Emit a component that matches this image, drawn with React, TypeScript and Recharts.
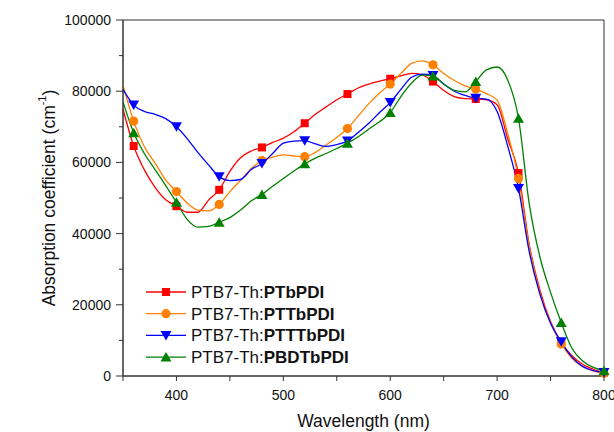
import { LineChart, Line, XAxis, YAxis, ReferenceArea } from "recharts";

const WAVELENGTHS = [
  350, 360, 370, 380, 390, 400, 410, 420, 430, 440, 450, 460, 470, 480, 490, 500, 510, 520, 530, 540, 550, 560, 570,
  580, 590, 600, 610, 620, 630, 640, 650, 660, 670, 680, 690, 700, 710, 720, 730, 740, 750, 760, 770, 780, 790, 800,
];

// absorption coefficient, values in cm^-1
const PTBPDI = [
  75000, 64600, 57900, 53000, 49500, 47700, 46000, 46000, 49400, 52300, 57500, 61300, 63200, 64200, 65600, 66800,
  68600, 71000, 73500, 75600, 77600, 79200, 80900, 82000, 82800, 83500, 84300, 85000, 84600, 82700, 80200, 78500,
  77900, 77800, 77600, 76200, 66500, 57000, 37000, 24200, 15300, 9400, 5700, 3300, 1900, 1000,
];
const PTTBPDI = [
  81700, 71600, 64400, 59800, 55000, 51800, 48600, 46600, 46400, 48200, 51800, 55000, 58300, 60500, 61500, 62100,
  61800, 61600, 62800, 64900, 67000, 69500, 73000, 76500, 79500, 82000, 85000, 87800, 88500, 87400, 85000, 83000,
  81500, 80600, 79300, 77500, 68000, 55500, 36500, 23500, 15000, 9000, 5000, 2600, 1400, 800,
];
const PTTTBPDI = [
  80500, 76100, 74300, 73500, 72300, 70000, 66700, 62800, 59300, 56000, 54900, 55200, 58000, 59700, 62500, 65400,
  66000, 66100, 65200, 64500, 65000, 66000, 68400, 71000, 74000, 76800, 80500, 83900, 84800, 84400, 82000, 80000,
  78800, 78000, 77800, 74300, 64500, 52700, 35000, 23000, 14800, 9600, 5300, 2700, 1500, 1000,
];
const PBDTBPDI = [
  77000, 68300, 62500, 58000, 53500, 48800, 44000, 41800, 42000, 43200, 44500, 46600, 49200, 51000, 53300, 55500,
  57600, 59600, 61200, 62500, 63900, 65400, 67200, 69400, 71400, 74000, 78500, 82300, 84500, 84300, 82000, 80200,
  79800, 82700, 86000, 86800, 83100, 72400, 48500, 33500, 23500, 15000, 7800, 4200, 2400, 1500,
];

const MARKER_WAVELENGTHS = [360, 400, 440, 480, 520, 560, 600, 640, 680, 720, 760, 800];
const X_TICKS = [350, 400, 450, 500, 550, 600, 650, 700, 750, 800];
const X_LABELS = [400, 500, 600, 700, 800];
const Y_TICKS = [0, 10000, 20000, 30000, 40000, 50000, 60000, 70000, 80000, 90000, 100000];
const Y_LABELS = [0, 20000, 40000, 60000, 80000, 100000];

type MarkerKind = "square" | "circle" | "down" | "up";

const SERIES: { key: string; prefix: string; name: string; color: string; marker: MarkerKind }[] = [
  { key: "ptbpdi", prefix: "PTB7-Th:", name: "PTbPDI", color: "#ff0000", marker: "square" },
  { key: "pttbpdi", prefix: "PTB7-Th:", name: "PTTbPDI", color: "#ff8000", marker: "circle" },
  { key: "ptttbpdi", prefix: "PTB7-Th:", name: "PTTTbPDI", color: "#0000ff", marker: "down" },
  { key: "pbdtbpdi", prefix: "PTB7-Th:", name: "PBDTbPDI", color: "#008000", marker: "up" },
];

const data = WAVELENGTHS.map((wl, i) => ({
  wl,
  ptbpdi: PTBPDI[i],
  pttbpdi: PTTBPDI[i],
  ptttbpdi: PTTTBPDI[i],
  pbdtbpdi: PBDTBPDI[i],
}));

const FONT = "'Liberation Sans', Arial, sans-serif";
const AXIS_COLOR = "#333";

const markerShape = (kind: MarkerKind, cx: number, cy: number, color: string, key?: string) => {
  if (kind === "square") return <rect key={key} x={cx - 4} y={cy - 4} width={8} height={8} fill={color} />;
  if (kind === "circle") return <circle key={key} cx={cx} cy={cy} r={4.6} fill={color} />;
  if (kind === "down")
    return <polygon key={key} points={`${cx - 5.5},${cy - 4.5} ${cx + 5.5},${cy - 4.5} ${cx},${cy + 5}`} fill={color} />;
  return <polygon key={key} points={`${cx - 5.5},${cy + 4.5} ${cx + 5.5},${cy + 4.5} ${cx},${cy - 5}`} fill={color} />;
};

const makeDot = (kind: MarkerKind, color: string) => (props: any) => {
  const { cx, cy, payload, index } = props;
  if (!MARKER_WAVELENGTHS.includes(payload.wl)) return <g key={`n-${index}`} />;
  return markerShape(kind, cx, cy, color, `m-${index}`);
};

const XTick = ({ x, y, payload }: any) => (
  <g>
    <line x1={x} y1={y} x2={x} y2={y + 5} stroke={AXIS_COLOR} />
    {X_LABELS.includes(payload.value) && (
      <text x={x} y={y + 24} textAnchor="middle" fontSize={14} fill="#111" fontFamily={FONT}>
        {payload.value}
      </text>
    )}
  </g>
);

const YTick = ({ x, y, payload }: any) => {
  const major = Y_LABELS.includes(payload.value);
  return (
    <g>
      <line x1={x} y1={y} x2={x - (major ? 7 : 4)} y2={y} stroke={AXIS_COLOR} />
      {major && (
        <text x={x - 12} y={y + 5} textAnchor="end" fontSize={14} fill="#111" fontFamily={FONT}>
          {payload.value}
        </text>
      )}
    </g>
  );
};

const XTitle = ({ viewBox }: any) => (
  <text x={viewBox.x + viewBox.width / 2} y={viewBox.y + 51} textAnchor="middle" fontSize={17.5} fill="#111" fontFamily={FONT}>
    Wavelength (nm)
  </text>
);

const YTitle = ({ viewBox }: any) => {
  const cx = viewBox.x + 50;
  const cy = viewBox.y + viewBox.height / 2;
  return (
    <text x={cx} y={cy} transform={`rotate(-90 ${cx} ${cy})`} textAnchor="middle" dominantBaseline="middle" fontSize={17.5} fill="#111" fontFamily={FONT}>
      Absorption coefficient (cm
      <tspan dy={-7} fontSize={11}>-1</tspan>
      <tspan dy={7}>)</tspan>
    </text>
  );
};

const LegendBox = () => (
  <svg width={260} height={92} style={{ position: "absolute", left: 146, top: 280, display: "block" }}>
    {SERIES.map((s, i) => {
      const cy = 12 + i * 21.7;
      return (
        <g key={s.key}>
          <line x1={0} y1={cy} x2={40} y2={cy} stroke={s.color} strokeWidth={1.3} />
          {markerShape(s.marker, 20, cy, s.color)}
          <text x={45} y={cy + 6} fontSize={17} fill="#111" fontFamily={FONT}>
            {s.prefix}
            <tspan fontWeight="bold">{s.name}</tspan>
          </text>
        </g>
      );
    })}
  </svg>
);

export default function App() {
  return (
    <div style={{ position: "absolute", left: 0, top: 0, width: 614, height: 432, background: "#fff", overflow: "hidden" }}>
      <LineChart width={614} height={432} data={data} margin={{ top: 20, right: 10, bottom: 0, left: 0 }}>
        <XAxis
          dataKey="wl"
          type="number"
          domain={[350, 800]}
          ticks={X_TICKS}
          interval={0}
          tick={<XTick />}
          tickLine={false}
          tickSize={0}
          tickMargin={0}
          stroke={AXIS_COLOR}
          height={56}
          label={<XTitle />}
        />
        <YAxis
          type="number"
          domain={[0, 100000]}
          ticks={Y_TICKS}
          interval={0}
          tick={<YTick />}
          tickLine={false}
          tickSize={0}
          tickMargin={0}
          stroke={AXIS_COLOR}
          width={123}
          label={<YTitle />}
        />
        <ReferenceArea x1={350} x2={800} y1={0} y2={100000} fill="none" stroke={AXIS_COLOR} strokeWidth={1} />
        {SERIES.map((s) => (
          <Line
            key={s.key}
            type="monotone"
            dataKey={s.key}
            name={s.name}
            stroke={s.color}
            strokeWidth={1.3}
            dot={makeDot(s.marker, s.color)}
            activeDot={false}
            isAnimationActive={false}
          />
        ))}
      </LineChart>
      <LegendBox />
    </div>
  );
}
